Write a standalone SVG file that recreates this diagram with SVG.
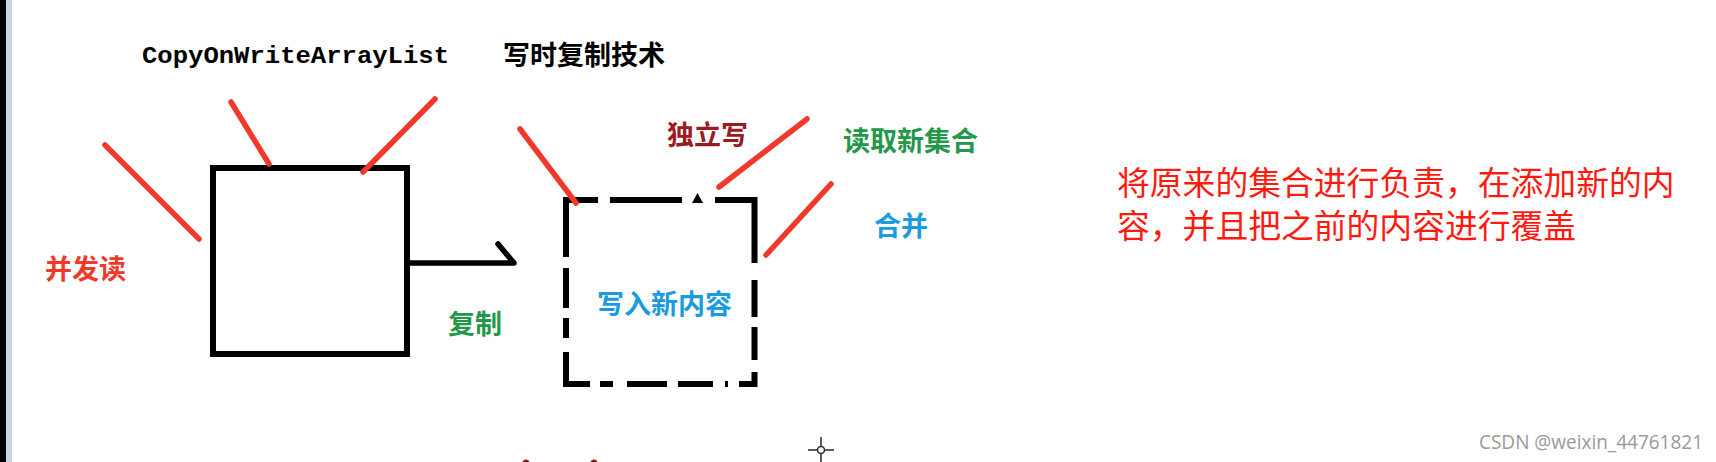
<svg xmlns="http://www.w3.org/2000/svg" width="1716" height="462" viewBox="0 0 1716 462">
  <style>
    .cjk { font-family: "Noto Sans CJK SC", "Noto Sans", sans-serif; font-weight: bold; font-size: 27px; }
    .para { font-family: "Noto Sans CJK SC", "Noto Sans", sans-serif; font-size: 32.8px; fill: #ff1a10; }
    .red { fill: #f0392b; }
    .green { fill: #23974a; }
    .blue { fill: #1a9be0; }
    .dred { fill: #9b1b22; }
    .rl { stroke: #f0392b; stroke-width: 5.5; stroke-linecap: round; fill: none; }
    .box { stroke: #000; stroke-width: 6; fill: none; }
  </style>
  <rect x="0" y="0" width="1716" height="462" fill="#ffffff"/>
  <rect x="0" y="0" width="6" height="462" fill="#000"/>
  <rect x="6" y="0" width="6" height="462" fill="#ccd3e3"/>

  <g id="title">
    <text x="142" y="63" font-family="Liberation Mono, monospace" font-weight="bold" font-size="24" textLength="307" lengthAdjust="spacingAndGlyphs" fill="#000">CopyOnWriteArrayList</text>
    <text class="cjk" x="503" y="65" fill="#000">写时复制技术</text>
  </g>

  <g id="original-list">
    <rect class="box" x="213" y="168" width="194" height="186"/>
  </g>

  <g id="new-list">
    <path class="box" stroke-linecap="butt" d="M563,200 H598 M610,200 H682 M715,200 H757.5 M754.5,197 V263 M754.5,280 V317 M754.5,327 V360 M754.5,372 V387 M757.5,384 H739 M728,384 H725 M713,384 H678 M667,384 H627 M613,384 H600 M590,384 H563 M566,387 V352 M566,338 V318 M566,308 V268 M566,257 V197"/>
    <path d="M692,203 L697.5,193 L703,203 Z" fill="#000"/>
    <text class="cjk blue" x="597" y="314">写入新内容</text>
  </g>

  <g id="connectors">
    <path d="M410,263 H514 L498,244" stroke="#000" stroke-width="5.5" stroke-linecap="round" stroke-linejoin="round" fill="none"/>
    <line class="rl" x1="105" y1="145" x2="199" y2="239"/>
    <line class="rl" x1="231" y1="102" x2="269" y2="164"/>
    <line class="rl" x1="435" y1="99" x2="363" y2="172"/>
    <line class="rl" x1="520" y1="129" x2="576" y2="203"/>
    <line class="rl" x1="807" y1="119" x2="719" y2="187"/>
    <line class="rl" x1="831" y1="184" x2="766" y2="255"/>
  </g>

  <g id="labels">
    <text class="cjk red" x="45" y="279">并发读</text>
    <text class="cjk green" x="448" y="334">复制</text>
    <text class="cjk dred" x="667" y="145">独立写</text>
    <text class="cjk green" x="843" y="151">读取新集合</text>
    <text class="cjk blue" x="874" y="236">合并</text>
  </g>

  <g id="note">
    <text class="para" x="1117" y="195">将原来的集合进行负责，在添加新的内</text>
    <text class="para" x="1117" y="238">容，并且把之前的内容进行覆盖</text>
  </g>

  <g id="artifacts">
    <circle cx="526" cy="463" r="3.5" fill="#8b1a22"/>
    <circle cx="594" cy="463" r="3.5" fill="#8b1a22"/>
    <g stroke="#333" stroke-width="1.6" fill="none">
      <line x1="821" y1="437" x2="821" y2="446"/>
      <line x1="821" y1="454" x2="821" y2="462"/>
      <line x1="808" y1="450" x2="817" y2="450"/>
      <line x1="825" y1="450" x2="834" y2="450"/>
      <circle cx="821" cy="450" r="3.5"/>
    </g>
    <text x="1479" y="449" font-family="Open Sans, sans-serif" font-size="20" textLength="224" lengthAdjust="spacingAndGlyphs" fill="#9a9a9a">CSDN @weixin_44761821</text>
  </g>
</svg>
